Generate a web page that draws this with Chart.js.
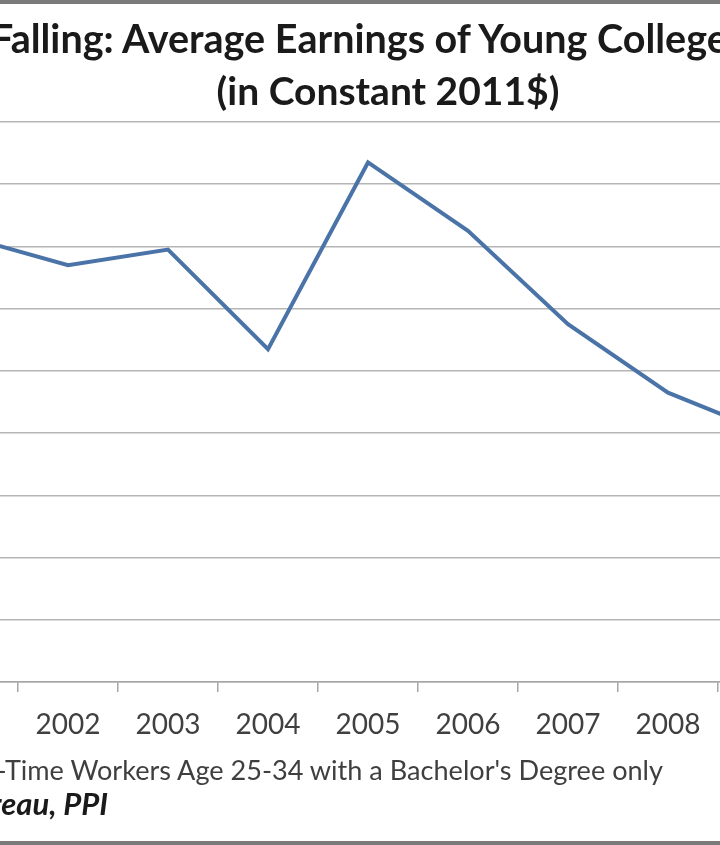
<!DOCTYPE html>
<html>
<head>
<meta charset="utf-8">
<script src="https://cdn.jsdelivr.net/npm/chart.js@4.4.1/dist/chart.umd.min.js"></script>
<style>
html, body { margin: 0; padding: 0; background: #fff; }
#frame { position: relative; width: 720px; height: 845px; overflow: hidden; background: #fff; }
#frame .edge { position: absolute; left: 0; width: 720px; height: 4px; background: #7a7a7a; }
#wrap { position: absolute; left: -200px; top: 0; width: 1120px; height: 845px; }
.txt { position: absolute; white-space: nowrap; font-family: Lato, sans-serif; line-height: 1; }
#title1 { left: -9px; top: 18px; font-size: 39.5px; font-weight: bold; color: #1a1a1a; }
#title2 { left: 388px; top: 71px; font-size: 39px; font-weight: bold; color: #1a1a1a; transform: translateX(-50%); }
#note { right: 57px; top: 756px; font-size: 27.1px; color: #3f3f3f; }
#source { right: 612px; top: 788px; font-size: 31px; font-weight: bold; font-style: italic; color: #1a1a1a; }
</style>
</head>
<body>
<div id="frame">
  <div id="wrap"><canvas id="earnings_chart"></canvas></div>
  <div class="txt" id="title1">Falling: Average Earnings of Young College Grads</div>
  <div class="txt" id="title2">(in Constant 2011$)</div>
  <div class="txt" id="note">Note: Full-Time Workers Age 25-34 with a Bachelor's Degree only</div>
  <div class="txt" id="source">Source: Census Bureau, PPI</div>
  <div class="edge" style="top:0"></div>
  <div class="edge" style="bottom:0"></div>
</div>
<script>
// データ ####################################################
var years = ['2001', '2002', '2003', '2004', '2005', '2006', '2007', '2008', '2009'];
var earnings = [57150, 56700, 56950, 55350, 58350, 57250, 55750, 54650, 54000];
var yTicks = [50000, 51000, 52000, 53000, 54000, 55000, 56000, 57000, 58000, 59000];

// 折れ線グラフ ####################################################
var ctx = document.getElementById('earnings_chart').getContext('2d');
var myChart = new Chart(ctx, {
  type: 'line',
  data: {
    labels: years,
    datasets: [{
      label: 'Average Earnings',
      data: earnings,
      borderColor: '#4a73a7',
      borderWidth: 4,
      pointRadius: 0,
      tension: 0,
      fill: false
    }]
  },
  options: {
    responsive: true,
    maintainAspectRatio: false,
    animation: false,
    layout: { padding: { left: 38, right: 102, top: 122, bottom: 103 } },
    plugins: {
      legend: { display: false },
      tooltip: { enabled: false }
    },
    scales: {
      x: {
        offset: true,
        afterFit: function(scale) { scale.height = 60; },
        grid: {
          offset: true,
          drawOnChartArea: false,
          drawTicks: true,
          tickLength: 10,
          color: '#a6a6a6',
          lineWidth: 1.5
        },
        border: { color: '#a6a6a6', width: 1.5 },
        ticks: {
          padding: 16,
          color: '#404040',
          font: { family: 'Lato', size: 28 }
        }
      },
      y: {
        min: yTicks[0],
        max: yTicks[yTicks.length - 1],
        afterFit: function(scale) { scale.width = 80; },
        afterBuildTicks: function(scale) {
          scale.ticks = yTicks.map(function(v) { return { value: v }; });
        },
        grid: { color: '#b5b5b5', lineWidth: 1.5 },
        border: { display: false },
        ticks: {
          color: '#404040',
          font: { family: 'Lato', size: 24 },
          callback: function(v) { return '$' + v.toLocaleString('en-US'); }
        }
      }
    }
  }
});
</script>
</body>
</html>
